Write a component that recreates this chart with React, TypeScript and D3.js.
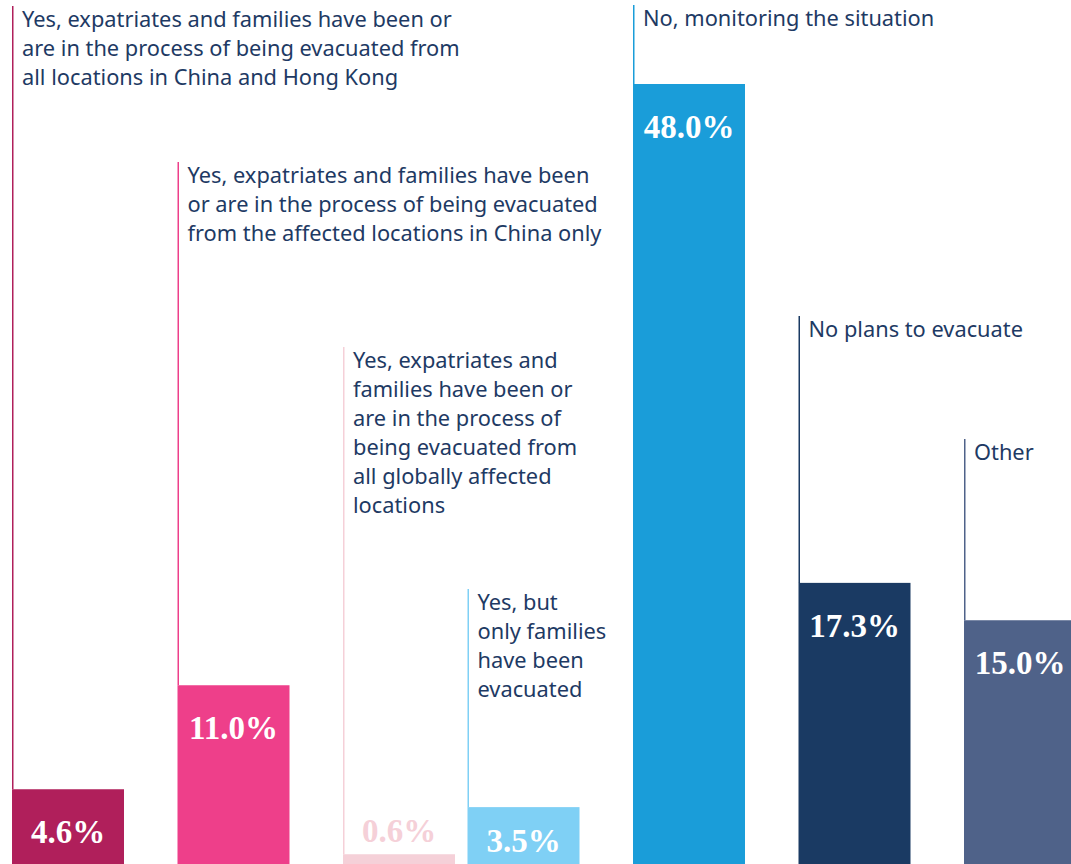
import React, { useRef, useEffect } from "react";
import * as d3 from "d3";

// survey answers (wrapped as in the original)
const categories = ["allChinaHK", "affectedChina", "globally", "familiesOnly", "monitoring", "noPlans", "other"];
const labelLines = [
  ["Yes, expatriates and families have been or", "are in the process of being evacuated from", "all locations in China and Hong Kong"],
  ["Yes, expatriates and families have been", "or are in the process of being evacuated", "from the affected locations in China only"],
  ["Yes, expatriates and", "families have been or", "are in the process of", "being evacuated from", "all globally affected", "locations"],
  ["Yes, but", "only families", "have been", "evacuated"],
  ["No, monitoring the situation"],
  ["No plans to evacuate"],
  ["Other"],
];
const values = [4.6, 11.0, 0.6, 3.5, 48.0, 17.3, 15.0];
const colors = ["#b01f5b", "#ee3f8a", "#f5d0d8", "#7fd0f5", "#1a9dd9", "#1a3a63", "#4f6289"];
// top of each annotation, px from top
const labelTop = [6, 162, 347, 589, 5, 316, 439];

const W = 1071;
const H = 864;

export default function App() {
  const svgRef = useRef<SVGSVGElement>(null);

  useEffect(() => {
    const svg = d3.select(svgRef.current);
    svg.selectAll("*").remove();

    const step = 165.5;
    const barW = 112;
    const x = d3.scaleBand<string>()
      .domain(categories)
      .range([12, 12 + step * 6 + barW])
      .paddingInner(1 - barW / step)
      .paddingOuter(0);
    const shift = (i: number) => (i >= 3 ? -41 : 0);
    const bx = (i: number) => (x(categories[i]) as number) + shift(i);

    const y = d3.scaleLinear().domain([0, 48]).range([H, 84]);

    const g = svg.append("g");

    // leader lines
    g.selectAll(".lead")
      .data(values)
      .join("line")
      .attr("class", "lead")
      .attr("x1", (d, i) => bx(i) + 0.75)
      .attr("x2", (d, i) => bx(i) + 0.75)
      .attr("y1", (d, i) => labelTop[i])
      .attr("y2", (d) => y(d))
      .attr("stroke", (d, i) => colors[i])
      .attr("stroke-width", 1.5);

    // bars
    g.selectAll(".bar")
      .data(values)
      .join("rect")
      .attr("class", "bar")
      .attr("x", (d, i) => bx(i))
      .attr("y", (d) => y(d))
      .attr("width", x.bandwidth())
      .attr("height", (d) => H - y(d))
      .attr("fill", (d, i) => colors[i]);

    // value labels
    g.selectAll(".val")
      .data(values)
      .join("text")
      .attr("class", "val")
      .attr("x", (d, i) => bx(i) + x.bandwidth() / 2)
      .attr("y", (d) => {
        const top = y(d);
        if (H - top < 20) return top - 12;
        return Math.min(top + 54, 852);
      })
      .attr("text-anchor", "middle")
      .attr("font-family", "'Liberation Serif', serif")
      .attr("font-weight", "bold")
      .attr("font-size", 33)
      .attr("fill", (d, i) => (H - y(d) < 20 ? colors[i] : "#ffffff"))
      .text((d) => d.toFixed(1) + "%");

    // category annotations
    const ann = g.selectAll(".ann")
      .data(labelLines)
      .join("text")
      .attr("class", "ann")
      .attr("font-family", "'Noto Sans', sans-serif")
      .attr("font-size", 21.8)
      .attr("fill", "#1e3a64");

    ann.selectAll("tspan")
      .data((d, i) => d.map((line, k) => ({ line, k, i })))
      .join("tspan")
      .attr("x", (d) => bx(d.i) + 10)
      .attr("y", (d) => labelTop[d.i] + 21 + d.k * 29)
      .text((d) => d.line);
  }, []);

  return (
    <svg
      ref={svgRef}
      width={W}
      height={H}
      style={{ position: "absolute", left: 0, top: 0, background: "#ffffff" }}
    />
  );
}
